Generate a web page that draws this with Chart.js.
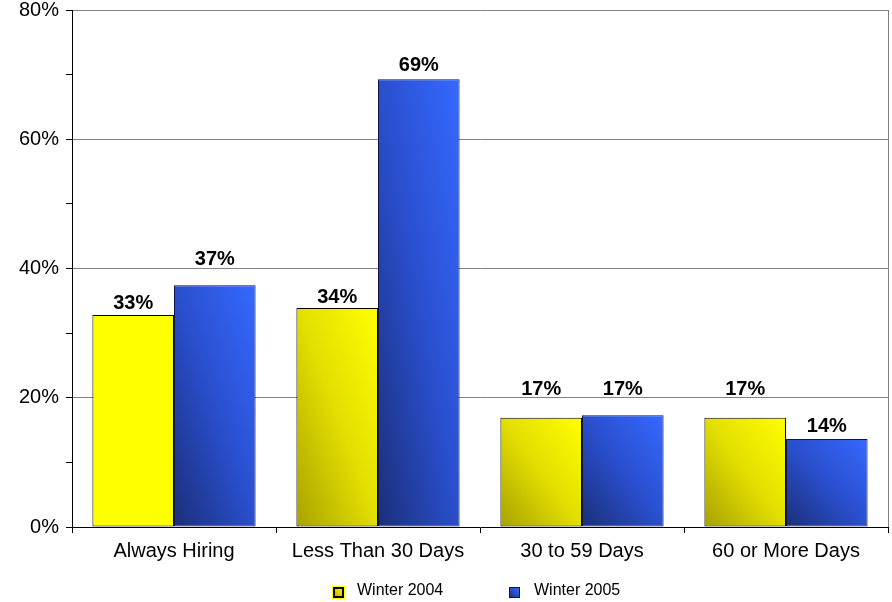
<!DOCTYPE html>
<html>
<head>
<meta charset="utf-8">
<script src="https://cdn.jsdelivr.net/npm/chart.js@4.4.1/dist/chart.umd.min.js"></script>
<style>
  html, body { margin: 0; padding: 0; background: #fff; }
  #wrap { width: 892px; height: 602px; }
</style>
</head>
<body>
<div id="wrap"><canvas id="c" width="892" height="602"></canvas></div>
<script>
// Hiring time frames, share of respondents (%)
const categories = ['Always Hiring', 'Less Than 30 Days', '30 to 59 Days', '60 or More Days'];
const seriesNames = ['Winter 2004', 'Winter 2005'];
const winter2004 = [32.8, 33.9, 16.9, 16.9];
const winter2005 = [37.4, 69.3, 17.3, 13.6];
const yTickValues = [0, 20, 40, 60, 80];

// vertical gap between a bar top and the centre of its value label (px)
const labelGap = [[13, 12, 30, 30], [27, 15, 27, 14]];

const FONT = '"Liberation Sans", Arial, Helvetica, sans-serif';

const palettes = [
  { stops: ['#a8a200', '#e2de00', '#ffff00'], border: '#000000', flat: [0] },
  { stops: ['#1b2f78', '#2a4fce', '#3569ff'], border: '#0c1640', flat: [] }
];

// diagonal gradient across a box: bottom-left dark, top-right bright
function boxGradient(ctx, left, top, right, bottom, stops) {
  const w = right - left, h = bottom - top;
  const k = 2 * w * h / (w * w + h * h);
  const g = ctx.createLinearGradient(left, bottom, left + h * k, bottom - w * k);
  g.addColorStop(0, stops[0]);
  g.addColorStop(0.5, stops[1]);
  g.addColorStop(1, stops[2]);
  return g;
}

const barFill = {
  id: 'barFill',
  beforeDatasetsDraw(chart) {
    const ctx = chart.ctx;
    chart.data.datasets.forEach((ds, i) => {
      const pal = palettes[i];
      chart.getDatasetMeta(i).data.forEach((el, j) => {
        const left = el.x - el.width / 2, right = el.x + el.width / 2;
        el.options.backgroundColor = pal.flat.includes(j)
          ? pal.stops[2]
          : boxGradient(ctx, left, el.y, right, el.base, pal.stops);
      });
    });
  }
};

const valueLabels = {
  id: 'valueLabels',
  afterDatasetsDraw(chart) {
    const ctx = chart.ctx;
    ctx.save();
    ctx.font = 'bold 20px ' + FONT;
    ctx.fillStyle = '#000';
    ctx.textAlign = 'center';
    ctx.textBaseline = 'alphabetic';
    chart.data.datasets.forEach((ds, i) => {
      chart.getDatasetMeta(i).data.forEach((el, j) => {
        const cy = el.y - labelGap[i][j];
        ctx.fillText(Math.round(ds.data[j]) + '%', el.x, cy + 7);
      });
    });
    ctx.restore();
  }
};

const frame = {
  id: 'frame',
  afterDraw(chart) {
    const ctx = chart.ctx, a = chart.chartArea;
    ctx.save();
    ctx.strokeStyle = '#808080';
    ctx.lineWidth = 1;
    ctx.beginPath();
    ctx.moveTo(Math.round(a.right) + 0.5, a.top);
    ctx.lineTo(Math.round(a.right) + 0.5, a.bottom);
    ctx.stroke();

    // legend
    const items = [
      { x: 332, label: chart.data.datasets[0].label, pal: palettes[0] },
      { x: 509, label: chart.data.datasets[1].label, pal: palettes[1] }
    ];
    const y = 586;
    ctx.font = '16px ' + FONT;
    ctx.textBaseline = 'middle';
    ctx.textAlign = 'left';
    items.forEach((it, i) => {
      if (i === 0) {
        ctx.fillStyle = '#ffff00';
        ctx.fillRect(it.x, y, 13, 13);
        ctx.fillStyle = '#000';
        ctx.fillRect(it.x + 1, y + 1, 11, 11);
        ctx.fillStyle = boxGradient(ctx, it.x + 3, y + 3, it.x + 10, y + 10, ['#b8b000', '#dcd600', '#f4f000']);
        ctx.fillRect(it.x + 3, y + 3, 7, 7);
      } else {
        ctx.fillStyle = '#0c1640';
        ctx.fillRect(it.x, y + 1, 11, 11);
        ctx.fillStyle = boxGradient(ctx, it.x + 1, y + 2, it.x + 10, y + 11, it.pal.stops);
        ctx.fillRect(it.x + 1, y + 2, 9, 9);
      }
      ctx.fillStyle = '#000';
      ctx.fillText(it.label, it.x + 25, y + 5);
    });
    ctx.restore();
  }
};

new Chart(document.getElementById('c'), {
  type: 'bar',
  data: {
    labels: categories,
    datasets: [
      { label: seriesNames[0], data: winter2004, borderColor: palettes[0].border,
        backgroundColor: () => palettes[0].stops[2], borderWidth: 1, borderSkipped: false },
      { label: seriesNames[1], data: winter2005, borderColor: palettes[1].border,
        backgroundColor: () => palettes[1].stops[2], borderWidth: 1, borderSkipped: false }
    ]
  },
  options: {
    responsive: false,
    animation: false,
    devicePixelRatio: 1,
    layout: { padding: { top: 10, right: 4, left: 0, bottom: 0 } },
    datasets: { bar: { categoryPercentage: 0.8, barPercentage: 1.0 } },
    plugins: { legend: { display: false }, tooltip: { enabled: false } },
    scales: {
      x: {
        afterFit: s => { s.height = 75; s.paddingLeft = 0; s.paddingRight = 0; },
        grid: { offset: true, drawOnChartArea: false, drawTicks: true, tickLength: 6, tickColor: '#000' },
        border: { color: '#000', width: 1 },
        ticks: { color: '#000', font: { family: FONT, size: 20 }, padding: 6, maxRotation: 0, autoSkip: false }
      },
      y: {
        min: 0, max: 80,
        afterFit: s => { s.width = 72; s.paddingTop = 0; s.paddingBottom = 0; },
        afterBuildTicks: s => {
          const t = [];
          for (let v = 0; v <= 80; v += 10) t.push({ value: v });
          s.ticks = t;
        },
        grid: {
          color: c => (c.tick && c.tick.value > 0 && yTickValues.includes(c.tick.value)) ? '#808080' : 'rgba(0,0,0,0)',
          tickColor: '#000', tickLength: 6, drawTicks: true
        },
        border: { color: '#000', width: 1 },
        ticks: {
          color: '#000', font: { family: FONT, size: 20 }, padding: 7,
          callback: v => yTickValues.includes(v) ? v + '%' : ''
        }
      }
    }
  },
  plugins: [barFill, valueLabels, frame]
});
</script>
</body>
</html>
